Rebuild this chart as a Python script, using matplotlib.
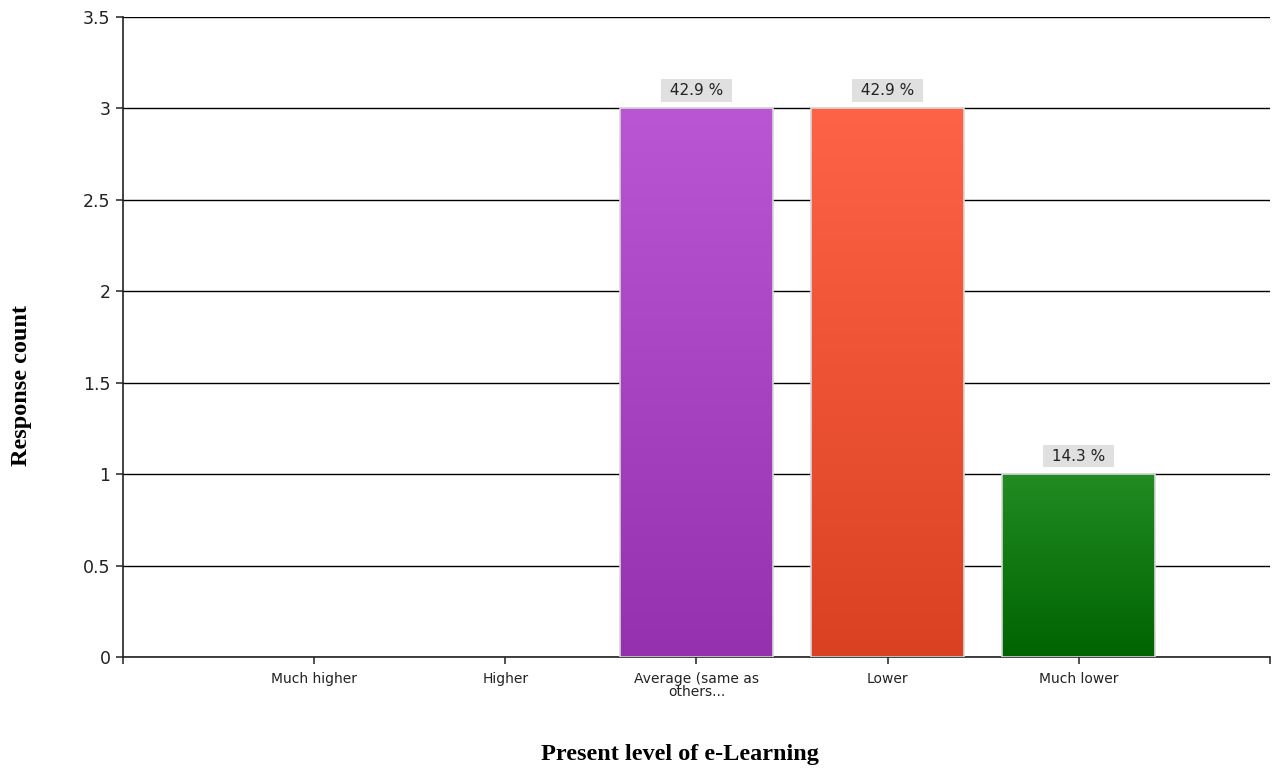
import numpy as np
import matplotlib.pyplot as plt
from matplotlib.colors import LinearSegmentedColormap

categories = ["Much higher", "Higher", "Average (same as\nothers...", "Lower", "Much lower"]
counts = [0, 0, 3, 3, 1]
# top / bottom colours of each bar's vertical gradient
top_colors = ["#BA55D3", "#BA55D3", "#BA55D3", "#FF6347", "#228B22"]
bottom_colors = ["#9530AF", "#9530AF", "#9530AF", "#DA4122", "#006400"]

total = sum(counts)
pos = np.arange(1, len(categories) + 1)

fig = plt.figure(figsize=(12.74, 7.70), dpi=100)
ax = fig.add_axes([0.0965, 0.1468, 0.9004, 0.8312])

ax.set_yticks(np.arange(0, 3.51, 0.5))
ax.set_yticklabels(["0", "0.5", "1", "1.5", "2", "2.5", "3", "3.5"], fontsize=12.5, color="#222222")
ax.yaxis.grid(True, color="black", linewidth=1.0)
ax.set_axisbelow(True)

ax.set_xticks(np.arange(0, len(categories) + 2))
ax.set_xticklabels([""] + categories + [""], fontsize=10, color="#222222", linespacing=0.9)
ax.tick_params(axis="both", length=5, width=1.2, color="#333333")
ax.tick_params(axis="x", pad=6)
ax.tick_params(axis="y", pad=4)

for s in ["top", "right"]:
    ax.spines[s].set_visible(False)
for s in ["left", "bottom"]:
    ax.spines[s].set_linewidth(1.2)
    ax.spines[s].set_color("#222222")

edges = ["#d8d8d8" if n > 0 else "none" for n in counts]
bars = ax.bar(pos, counts, width=0.8, color="none", edgecolor=edges, linewidth=1.2, zorder=3)
for b, c0, c1, n in zip(bars, top_colors, bottom_colors, counts):
    if n <= 0:
        continue
    cmap = LinearSegmentedColormap.from_list("g", [c1, c0])
    grad = np.linspace(0, 1, 256).reshape(-1, 1)
    x0, w, h = b.get_x(), b.get_width(), b.get_height()
    ax.imshow(grad, cmap=cmap, aspect="auto", origin="lower",
              extent=[x0, x0 + w, 0, h], zorder=2)
    ax.annotate(" %.1f %% " % (100.0 * n / total), (x0 + w / 2, h),
                xytext=(0, 13), textcoords="offset points", ha="center", va="center",
                fontsize=11, color="#222222",
                bbox=dict(boxstyle="square,pad=0.25", fc="#e0e0e0", ec="none"))

ax.set_xlim(0, len(categories) + 1)
ax.set_ylim(0, 3.5)

fig.text(0.017, 0.500, "Response count", rotation=90, ha="center", va="center",
         fontsize=17.5, fontweight="bold", family="Liberation Serif")
fig.text(0.534, 0.020, "Present level of e-Learning", ha="center", va="center",
         fontsize=17.5, fontweight="bold", family="Liberation Serif")

fig.savefig("out.png", dpi=100)
